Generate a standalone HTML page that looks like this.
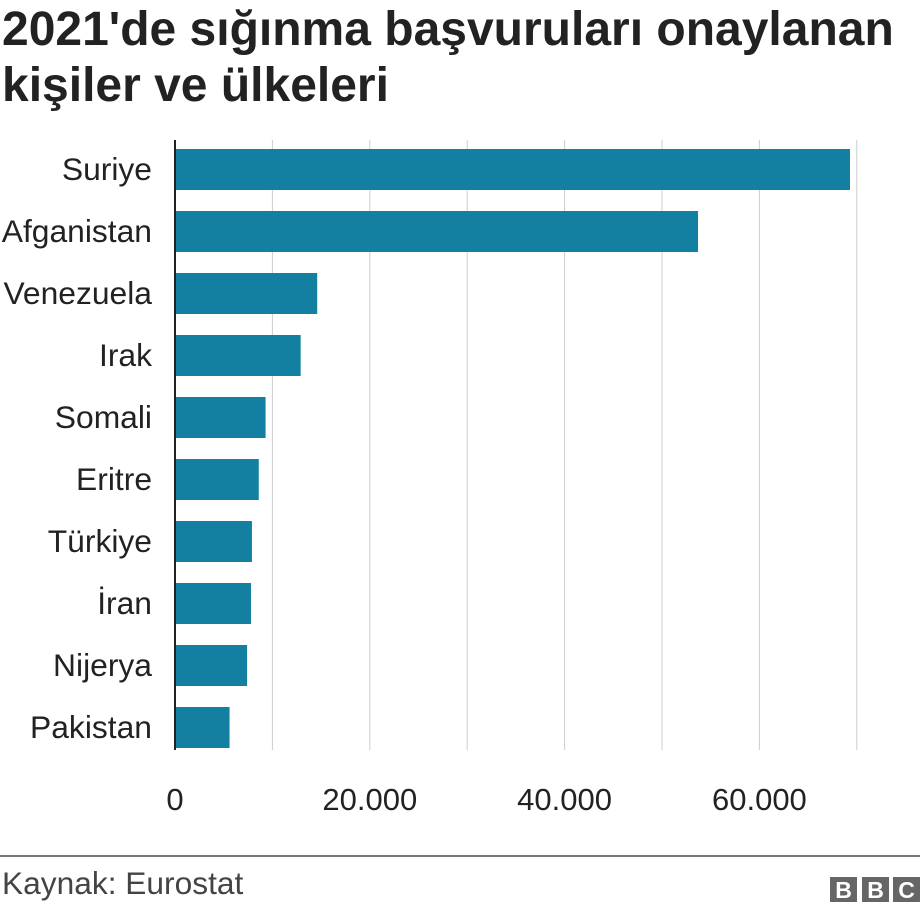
<!DOCTYPE html>
<html><head><meta charset="utf-8"><style>
body{margin:0;width:920px;height:912px;background:#fff;font-family:"Liberation Sans",sans-serif;overflow:hidden;position:relative}
.title{position:absolute;left:2px;top:2px;font-size:48px;font-weight:bold;line-height:56px;color:#222;margin:0;white-space:nowrap}
</style></head><body>
<h1 class="title">2021'de sığınma başvuruları onaylanan<br>kişiler ve ülkeleri</h1>
<svg id="chart" width="920" height="912" style="position:absolute;left:0;top:0"></svg>
<script>
const categories=["Suriye","Afganistan","Venezuela","Irak","Somali","Eritre","Türkiye","İran","Nijerya","Pakistan"];
const values=[69300,53700,14600,12900,9300,8600,7900,7800,7400,5600];
const gridValues=[10000,20000,30000,40000,50000,60000,70000];
const tickValues=[0,20000,40000,60000];
const tickLabels=["0","20.000","40.000","60.000"];
const svg=document.getElementById('chart');
const NS='http://www.w3.org/2000/svg';
const x=v=>175+v*0.00974;
const y=i=>149+i*62;
function mk(t,a){const e=document.createElementNS(NS,t);for(const k in a)e.setAttribute(k,a[k]);svg.appendChild(e);return e;}
gridValues.forEach(v=>{const l=mk('line',{x1:x(v),x2:x(v),y1:140,y2:750,stroke:'#ccc','stroke-width':1});

});
categories.forEach((c,i)=>{
const r=mk('rect',{x:x(0),y:y(i),width:x(values[i])-x(0),height:41,fill:'#1380A1'});


const t=mk('text',{x:152,y:y(i)+31,'text-anchor':'end','font-size':31.8,fill:'#222'});
t.textContent=c;


});
const ax=mk('line',{x1:175,x2:175,y1:140,y2:750,stroke:'#222','stroke-width':2});


tickValues.forEach((v,i)=>{const t=mk('text',{x:x(v),y:810,'text-anchor':'middle','font-size':31,fill:'#222'});
t.textContent=tickLabels[i];

});
const fl=mk('line',{x1:0,x2:920,y1:856,y2:856,stroke:'#777','stroke-width':2});


const src=mk('text',{x:2,y:894,'font-size':31.7,fill:'#444'});
src.textContent='Kaynak: Eurostat';


[[830,'B'],[862,'B'],[893,'C']].forEach(([bx,ch])=>{
const r=mk('rect',{x:bx,y:877,width:27,height:25,fill:'#666'});


const t=mk('text',{x:bx+13.5,y:898,'text-anchor':'middle','font-size':23,'font-weight':'bold',fill:'#fff'});
t.textContent=ch;


});
</script>
</body></html>
